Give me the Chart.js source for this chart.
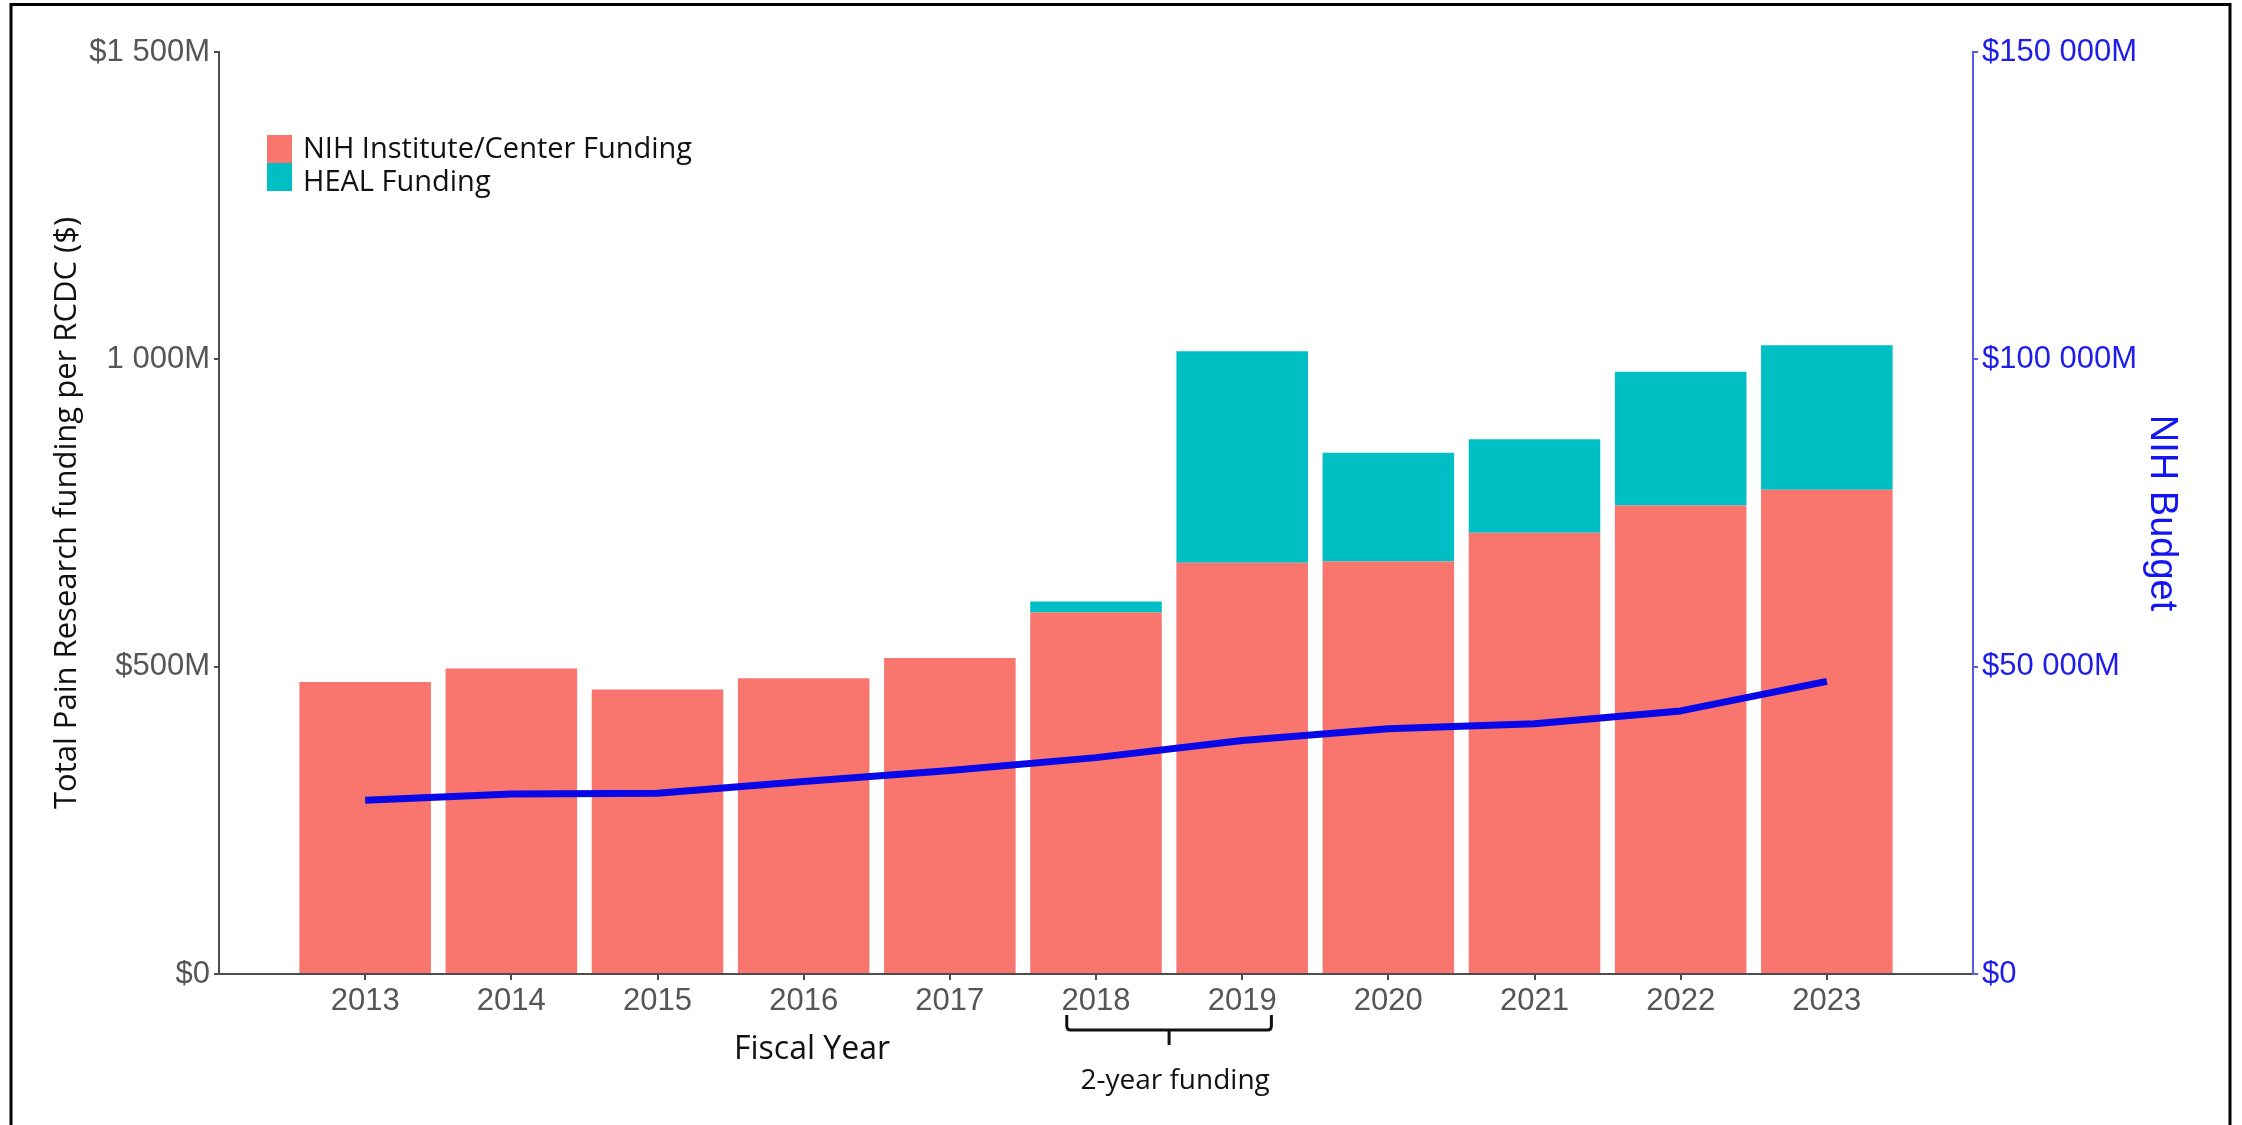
<!DOCTYPE html>
<html>
<head>
<meta charset="utf-8">
<title>Pain research funding</title>
<script src="https://cdn.jsdelivr.net/npm/chart.js@4.4.0/dist/chart.umd.min.js"></script>
<style>
    html, body { margin: 0; padding: 0; background: #fff; }
    #wrap { position: relative; width: 2242px; height: 1125px; }
</style>
</head>
<body>
<div id="wrap"><canvas id="fundingChart"></canvas></div>
<script>
var years = ['2013', '2014', '2015', '2016', '2017', '2018', '2019', '2020', '2021', '2022', '2023'];
// $ millions
var nihIcFunding = [475, 497, 463, 481, 514, 588, 669, 671, 718, 762, 788];
var healFunding = [0, 0, 0, 0, 0, 18, 344, 177, 152, 218, 235];
// $ millions, right axis
var nihBudget = [28250, 29300, 29400, 31300, 33100, 35200, 38000, 39900, 40700, 42800, 47600];
var leftTickLabels = ['$0', '$500M', '1 000M', '$1 500M'];
var rightTickLabels = ['$0', '$50 000M', '$100 000M', '$150 000M'];
var seriesNames = ['NIH Institute/Center Funding', 'HEAL Funding', 'NIH Budget'];

(function () {
    'use strict';

    // one empty slot each side, like the reference's padded x range
    var labels = [''].concat(years, ['']);
    function pad(arr) { return [null].concat(arr, [null]); }

    function edgeTick(ctx, color) {
        return (ctx.index === 0 || ctx.index === labels.length - 1) ? 'rgba(0,0,0,0)' : color;
    }

    var frame = {
        id: 'frame',
        afterDraw: function (chart) {
            var ctx = chart.ctx;
            ctx.save();
            ctx.strokeStyle = '#000';
            ctx.lineWidth = 3;
            ctx.beginPath();
            ctx.moveTo(11, 1125);
            ctx.lineTo(11, 4.5);
            ctx.lineTo(2230, 4.5);
            ctx.lineTo(2230, 1125);
            ctx.stroke();
            ctx.restore();
        }
    };

    var boxLegend = {
        id: 'boxLegend',
        afterDraw: function (chart) {
            var ctx = chart.ctx;
            var items = chart.data.datasets.filter(function (d) { return d.type !== 'line'; });
            ctx.save();
            ctx.font = '29px "Open Sans"';
            ctx.textBaseline = 'alphabetic';
            items.forEach(function (ds, i) {
                ctx.fillStyle = ds.backgroundColor;
                ctx.fillRect(267, 135 + i * 28, 25, 28);
                ctx.fillStyle = '#111';
                ctx.fillText(ds.label, 303, 158 + i * 33);
            });
            ctx.restore();
        }
    };

    var notes = {
        id: 'notes',
        afterDraw: function (chart) {
            var ctx = chart.ctx;
            var x = chart.scales.x;
            var p18 = x.getPixelForValue(years.indexOf('2018') + 1);
            var p19 = x.getPixelForValue(years.indexOf('2019') + 1);
            var mid = (p18 + p19) / 2;
            var half = (p19 - p18) * 0.7;
            ctx.save();
            ctx.fillStyle = '#111';
            ctx.font = '32px "Open Sans"';
            ctx.textAlign = 'left';
            ctx.fillText('Fiscal Year', 734, 1059);

            ctx.strokeStyle = '#111';
            ctx.lineWidth = 3;
            ctx.lineJoin = 'round';
            ctx.beginPath();
            ctx.moveTo(mid - half, 1015);
            ctx.lineTo(mid - half, 1026);
            ctx.quadraticCurveTo(mid - half, 1030, mid - half + 4, 1030);
            ctx.lineTo(mid + half - 4, 1030);
            ctx.quadraticCurveTo(mid + half, 1030, mid + half, 1026);
            ctx.lineTo(mid + half, 1015);
            ctx.moveTo(mid, 1030);
            ctx.lineTo(mid, 1045);
            ctx.stroke();

            ctx.font = '28px "Open Sans"';
            ctx.textAlign = 'center';
            ctx.fillText('2-year funding', mid + 6, 1089);
            ctx.restore();
        }
    };

    Chart.defaults.font.family = '"Liberation Sans", Arial, sans-serif';

    var canvas = document.getElementById('fundingChart');
    new Chart(canvas.getContext('2d'), {
        type: 'bar',
        data: {
            labels: labels,
            datasets: [
                {
                    type: 'line',
                    label: seriesNames[2],
                    data: pad(nihBudget),
                    yAxisID: 'y1',
                    borderColor: '#0808e8',
                    borderWidth: 7,
                    borderJoinStyle: 'round',
                    pointRadius: 0,
                    tension: 0,
                    fill: false,
                    order: 0
                },
                {
                    label: seriesNames[0],
                    data: pad(nihIcFunding),
                    backgroundColor: '#F8766D',
                    yAxisID: 'y',
                    stack: 'funding',
                    barPercentage: 0.9,
                    categoryPercentage: 1,
                    order: 1
                },
                {
                    label: seriesNames[1],
                    data: pad(healFunding),
                    backgroundColor: '#00BFC4',
                    yAxisID: 'y',
                    stack: 'funding',
                    barPercentage: 0.9,
                    categoryPercentage: 1,
                    order: 1
                }
            ]
        },
        options: {
            responsive: true,
            maintainAspectRatio: false,
            animation: false,
            devicePixelRatio: 1,
            layout: { padding: { top: 52, bottom: 0, left: 0, right: 0 } },
            plugins: {
                legend: { display: false },
                tooltip: { enabled: false }
            },
            scales: {
                x: {
                    type: 'category',
                    offset: false,
                    stacked: true,
                    grid: {
                        offset: false,
                        drawOnChartArea: false,
                        drawTicks: true,
                        tickLength: 6,
                        lineWidth: 2,
                        color: function (c) { return edgeTick(c, '#4d4d4d'); },
                        tickColor: function (c) { return edgeTick(c, '#4d4d4d'); }
                    },
                    border: { display: true, color: '#4d4d4d', width: 2 },
                    ticks: {
                        autoSkip: false,
                        maxRotation: 0,
                        padding: 3,
                        color: '#555',
                        font: { size: 31 }
                    },
                    afterFit: function (s) { s.height = 151; }
                },
                y: {
                    position: 'left',
                    stacked: true,
                    min: 0,
                    max: 1500,
                    grid: { drawOnChartArea: false, drawTicks: true, tickLength: 5, color: '#4d4d4d', lineWidth: 2 },
                    border: { display: true, color: '#4d4d4d', width: 2 },
                    ticks: {
                        stepSize: 500,
                        padding: 4,
                        color: '#555',
                        font: { size: 31 },
                        callback: function (v) { return leftTickLabels[Math.round(v / 500)]; }
                    },
                    title: {
                        display: true,
                        text: 'Total Pain Research funding per RCDC ($)',
                        color: '#111',
                        font: { family: '"Open Sans"', size: 31 },
                        padding: { top: 49, bottom: 0 }
                    },
                    afterFit: function (s) { s.width = 219; }
                },
                y1: {
                    position: 'right',
                    min: 0,
                    max: 150000,
                    grid: { drawOnChartArea: false, drawTicks: true, tickLength: 5, color: '#5a5ae0', lineWidth: 2 },
                    border: { display: true, color: '#5a5ae0', width: 2 },
                    ticks: {
                        stepSize: 50000,
                        padding: 4,
                        color: '#1e1ee8',
                        font: { size: 31 },
                        callback: function (v) { return rightTickLabels[Math.round(v / 50000)]; }
                    },
                    title: {
                        display: true,
                        text: 'NIH Budget',
                        color: '#1515f2',
                        font: { size: 38 },
                        padding: { top: 58, bottom: 0 }
                    },
                    afterFit: function (s) { s.width = 269; }
                }
            }
        },
        plugins: [frame, boxLegend, notes]
    });
})();
</script>
</body>
</html>
